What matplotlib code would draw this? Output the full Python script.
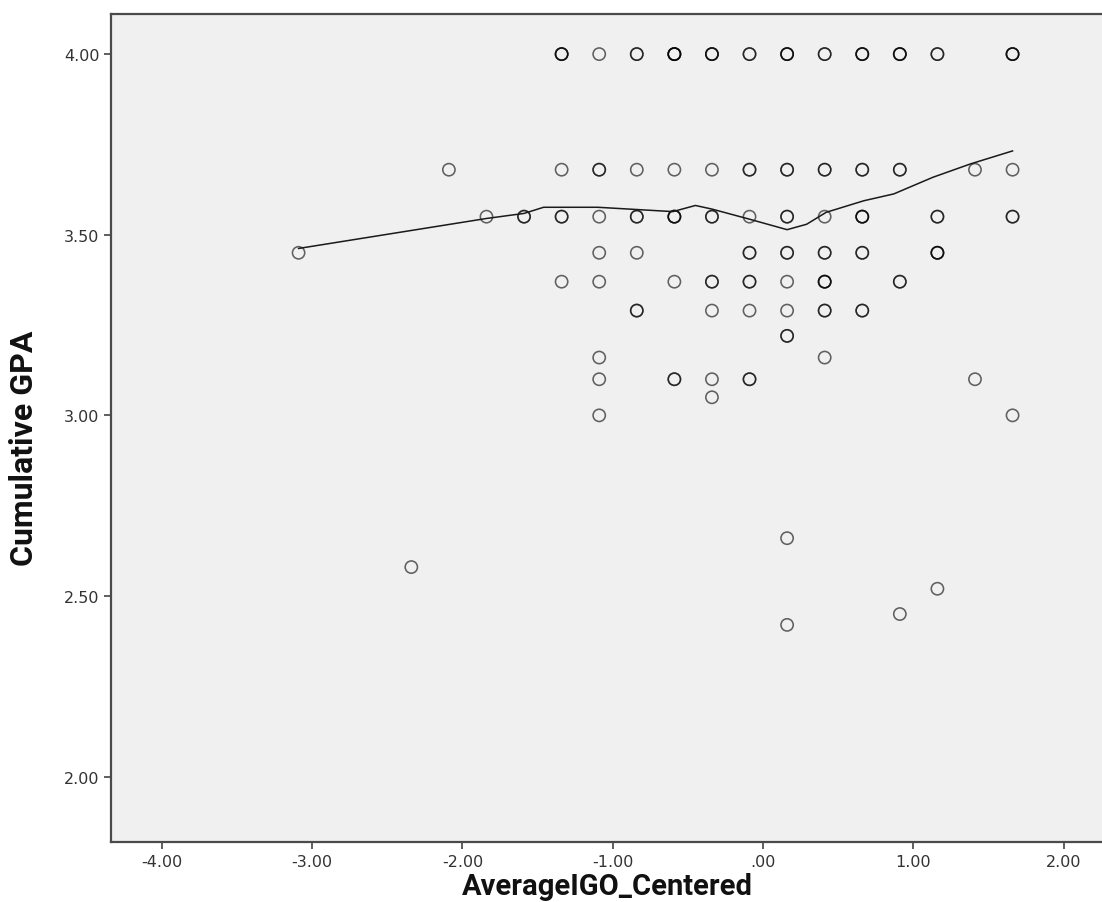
import matplotlib
matplotlib.use("Agg")
import matplotlib.pyplot as plt
import numpy as np

# ---- data ----
# scatter points: x (AverageIGO_Centered), y (Cumulative GPA), n (overlapping cases)
pts_x = [-1.34, -1.09, -0.84, -0.59, -0.34, -0.09, 0.16, 0.41, 0.66, 0.91, 1.16, 1.66,
         -2.09, -1.34, -1.09, -0.84, -0.59, -0.34, -0.09, 0.16, 0.41, 0.66, 0.91, 1.41, 1.66,
         -1.84, -1.59, -1.34, -1.09, -0.84, -0.59, -0.34, -0.09, 0.16, 0.41, 0.66, 1.16, 1.66,
         -3.09, -1.09, -0.84, -0.09, 0.16, 0.41, 0.66, 1.16,
         -1.34, -1.09, -0.59, -0.34, -0.09, 0.16, 0.41, 0.91,
         -0.84, -0.34, -0.09, 0.16, 0.41, 0.66,
         0.16,
         -1.09, 0.41,
         -1.09, -0.59, -0.34, -0.09, 1.41,
         -0.34,
         -1.09, 1.66,
         -2.34, 0.16, 1.16, 0.91, 0.16]
pts_y = [4.00] * 12 + [3.68] * 13 + [3.55] * 13 + [3.45] * 8 + [3.37] * 8 + \
        [3.29] * 6 + [3.22] + [3.16] * 2 + [3.10] * 5 + [3.05] + [3.00] * 2 + \
        [2.58, 2.66, 2.52, 2.45, 2.42]
pts_n = [3, 1, 2, 4, 3, 2, 3, 2, 3, 3, 2, 3,
         1, 1, 2, 1, 1, 1, 2, 2, 2, 2, 2, 1, 1,
         1, 2, 2, 1, 2, 3, 2, 1, 2, 1, 3, 2, 2,
         1, 1, 1, 2, 2, 2, 2, 3,
         1, 1, 1, 2, 2, 1, 3, 2,
         2, 1, 1, 1, 2, 2,
         2,
         1, 1,
         1, 2, 1, 2, 1,
         1,
         1, 1,
         1, 1, 1, 1, 1]

# loess fit line
fit_x = [-3.09, -1.84, -1.59, -1.46, -1.10, -0.60, -0.45, -0.34, -0.09, 0.16,
         0.29, 0.42, 0.67, 0.87, 1.13, 1.38, 1.66]
fit_y = [3.462, 3.545, 3.559, 3.576, 3.576, 3.564, 3.581, 3.571, 3.543, 3.514,
         3.529, 3.562, 3.594, 3.613, 3.659, 3.696, 3.732]

x_ticks = [-4, -3, -2, -1, 0, 1, 2]
x_tick_labels = ["-4.00", "-3.00", "-2.00", "-1.00", ".00", "1.00", "2.00"]
y_ticks = [2.0, 2.5, 3.0, 3.5, 4.0]
y_tick_labels = ["2.00", "2.50", "3.00", "3.50", "4.00"]
x_title = "AverageIGO_Centered"
y_title = "Cumulative GPA"

# ---- figure ----
W, H = 1102, 903
fig = plt.figure(figsize=(W / 100, H / 100), dpi=100)
fig.patch.set_facecolor("white")

left_px, right_px, top_px, bottom_px = 110.7, 1105, 15, 843
ax = fig.add_axes([left_px / W, 1 - bottom_px / H,
                   (right_px - left_px) / W, (bottom_px - top_px) / H])
ax.set_facecolor("#F0F0F0")
ax.set_xlim(-4.34, 2.275)
ax.set_ylim(1.819, 4.111)

# expand overlapping cases
ex_x = np.repeat(pts_x, pts_n)
ex_y = np.repeat(pts_y, pts_n)
ax.scatter(ex_x, ex_y, s=78, facecolors="none", edgecolors=(0, 0, 0, 0.6),
           linewidths=1.15, zorder=3)

ax.plot(fit_x, fit_y, color="#1a1a1a", lw=1.1, zorder=4)

for side in ["left", "bottom", "top", "right"]:
    ax.spines[side].set_color("#4a4a4a")
    ax.spines[side].set_linewidth(1.6)

ax.set_xticks(x_ticks)
ax.set_xticklabels(x_tick_labels)
ax.set_yticks(y_ticks)
ax.set_yticklabels(y_tick_labels)
ax.tick_params(axis="both", direction="out", length=5, width=1.1, color="#333333",
               labelsize=11.5, labelcolor="#333333")
ax.tick_params(axis="x", pad=4)
ax.tick_params(axis="y", pad=3)
for lab in ax.get_xticklabels() + ax.get_yticklabels():
    lab.set_family("DejaVu Sans")

lab_font = ["Roboto", "DejaVu Sans"]
fig.text(((left_px + right_px) / 2) / W, 2 / H, x_title, ha="center", va="bottom",
         fontsize=21, fontweight="bold", family=lab_font, color="#111111")
fig.text(24 / W, 1 - 448 / H, y_title, ha="center", va="center",
         rotation=90, fontsize=23, fontweight="bold", family=lab_font, color="#111111")

fig.savefig("out.png", dpi=100, facecolor="white")
